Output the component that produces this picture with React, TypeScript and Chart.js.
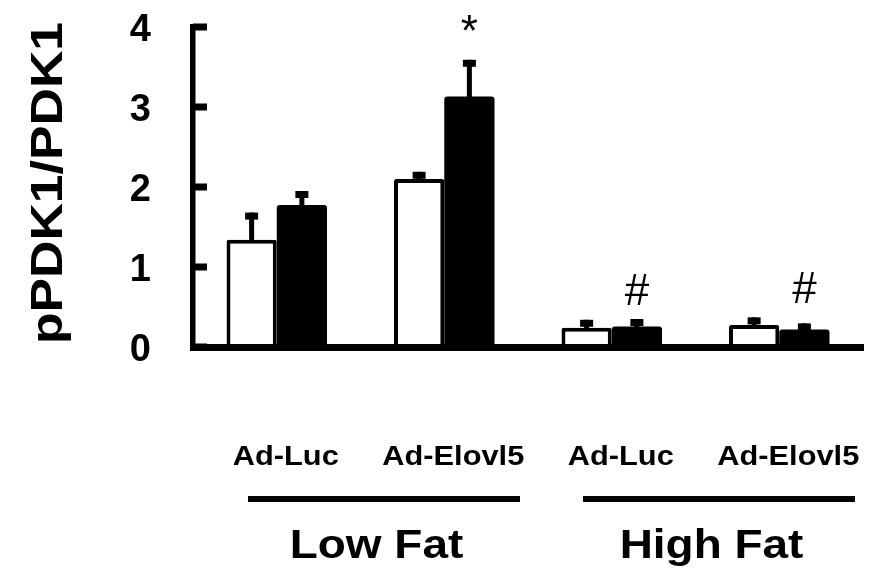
import React, { useEffect, useRef } from 'react';
import { Chart, registerables } from 'chart.js';

Chart.register(...registerables);

// ---- data ----
const categories = ['Ad-Luc', 'Ad-Elovl5', 'Ad-Luc', 'Ad-Elovl5'];
const groups = ['Low Fat', 'High Fat'];
const groupMembers = [[0, 1], [2, 3]];
const whiteValues = [1.34, 2.1, 0.24, 0.275];
const whiteErrors = [0.34, 0.09, 0.1, 0.095];
const blackValues = [1.775, 3.13, 0.255, 0.22];
const blackErrors = [0.175, 0.46, 0.095, 0.075];
const annotations = ['', '*', '#', '#'];
const yTicks = [0, 1, 2, 3, 4];
const yTitle = 'pPDK1/PDK1';

const FONT = '"Liberation Sans", Arial, Helvetica, sans-serif';

function stretchedText(ctx: CanvasRenderingContext2D, text: string, x: number, y: number, sx: number) {
  ctx.save();
  ctx.translate(x, y);
  ctx.scale(sx, 1);
  ctx.fillText(text, 0, 0);
  ctx.restore();
}

const decorPlugin = {
  id: 'decor',
  afterDatasetsDraw(chart: any) {
    const ctx: CanvasRenderingContext2D = chart.ctx;
    const ys = chart.scales.y;
    const area = chart.chartArea;
    ctx.save();
    ctx.fillStyle = '#000';

    // error bars (upper only)
    const vals = [whiteValues, blackValues];
    const errs = [whiteErrors, blackErrors];
    for (let d = 0; d < 2; d++) {
      const meta = chart.getDatasetMeta(d);
      meta.data.forEach((bar: any, i: number) => {
        const top = ys.getPixelForValue(vals[d][i] + errs[d][i]);
        const base = ys.getPixelForValue(vals[d][i]);
        ctx.fillRect(bar.x - 2.5, top, 5, base - top + 2);
        ctx.fillRect(bar.x - 6.5, top, 13, 7);
      });
    }

    // inward tick marks on y axis
    yTicks.forEach((v) => {
      const py = ys.getPixelForValue(v);
      ctx.fillRect(area.left, py - 3.5, 14, 7);
    });

    // significance marks
    ctx.font = `44px ${FONT}`;
    ctx.textAlign = 'center';
    ctx.textBaseline = 'alphabetic';
    const blackMeta = chart.getDatasetMeta(1);
    annotations.forEach((a, i) => {
      if (!a) return;
      const top = Math.min(
        ys.getPixelForValue(whiteValues[i] + whiteErrors[i]),
        ys.getPixelForValue(blackValues[i] + blackErrors[i])
      );
      ctx.fillText(a, blackMeta.data[i].x, top - 14);
    });
    ctx.restore();
  },
  afterDraw(chart: any) {
    const ctx: CanvasRenderingContext2D = chart.ctx;
    const xs = chart.scales.x;
    const area = chart.chartArea;
    ctx.save();
    ctx.fillStyle = '#000';
    ctx.textAlign = 'center';
    ctx.textBaseline = 'alphabetic';

    // category labels
    ctx.font = `bold 28px ${FONT}`;
    categories.forEach((c, i) => {
      stretchedText(ctx, c, xs.getPixelForValue(i) + 9, 465, 1.1);
    });

    // group lines and labels
    groupMembers.forEach((m, g) => {
      const cx = (xs.getPixelForValue(m[0]) + xs.getPixelForValue(m[m.length - 1])) / 2;
      ctx.fillRect(cx + 23.5 - 136, 496, 272, 6);
      ctx.font = `bold 41px ${FONT}`;
      stretchedText(ctx, groups[g], cx + 16, 558, 1.12);
    });

    // y axis title
    ctx.save();
    ctx.translate(62, (area.top + area.bottom) / 2 - 4);
    ctx.rotate(-Math.PI / 2);
    ctx.scale(1.15, 1);
    ctx.font = `bold 45px ${FONT}`;
    ctx.textAlign = 'center';
    ctx.textBaseline = 'alphabetic';
    ctx.fillText(yTitle, 0, 0);
    ctx.restore();

    ctx.restore();
  },
};

export default function App() {
  const ref = useRef<HTMLCanvasElement>(null);
  useEffect(() => {
    const chart = new Chart(ref.current as HTMLCanvasElement, {
      type: 'bar',
      data: {
        labels: categories,
        datasets: [
          {
            label: 'white',
            data: whiteValues,
            backgroundColor: '#ffffff',
            borderColor: '#000000',
            borderWidth: 4,
            borderRadius: 2,
            borderSkipped: 'start',
          },
          {
            label: 'black',
            data: blackValues,
            backgroundColor: '#000000',
            borderColor: '#000000',
            borderWidth: 0,
            borderRadius: 3,
          },
        ],
      },
      options: {
        animation: false,
        responsive: false,
        devicePixelRatio: 1,
        datasets: { bar: { categoryPercentage: 0.6, barPercentage: 1.0 } },
        layout: { padding: { top: 27, bottom: 225, left: 0, right: 21 } },
        plugins: { legend: { display: false }, tooltip: { enabled: false } },
        scales: {
          x: {
            grid: { display: false, drawTicks: false },
            ticks: { display: false },
            border: { display: true, width: 7, color: '#000', z: 1 },
            afterFit: (s: any) => { s.height = 0; s.paddingLeft = 0; s.paddingRight = 0; },
          },
          y: {
            min: 0,
            max: 4,
            grid: { display: false, drawTicks: false },
            ticks: {
              stepSize: 1,
              color: '#000',
              padding: 42,
              labelOffset: 4,
              font: { family: FONT, size: 38, weight: 'bold' },
            },
            border: { display: true, width: 5.5, color: '#000', z: 1 },
            afterFit: (s: any) => { s.width = 193; s.paddingTop = 0; s.paddingBottom = 0; },
          },
        },
      },
      plugins: [decorPlugin],
    } as any);
    return () => chart.destroy();
  }, []);
  return (
    <div style={{ position: 'fixed', left: 0, top: 0, width: 884, height: 572, background: '#fff' }}>
      <canvas ref={ref} width={884} height={572} style={{ display: 'block', width: 884, height: 572 }} />
    </div>
  );
}
